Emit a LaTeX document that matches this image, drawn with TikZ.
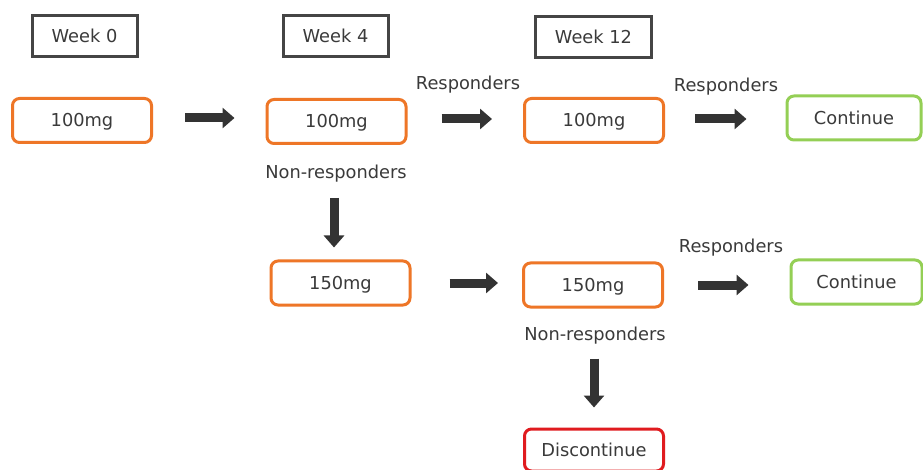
\documentclass[tikz,border=0pt]{standalone}
\usepackage{fontspec}
\setmainfont{DejaVu Sans}
\usetikzlibrary{arrows.meta}
\definecolor{txt}{HTML}{3A3A3A}
\definecolor{wk}{HTML}{454545}
\definecolor{org}{HTML}{EE7627}
\definecolor{grn}{HTML}{94CF55}
\definecolor{rd}{HTML}{E01B1F}
\definecolor{arr}{HTML}{333333}
\begin{document}
\begin{tikzpicture}[x=1pt,y=-1pt,
  font=\fontsize{17.8}{21}\selectfont, text=txt,
  base/.style={inner sep=0pt, text height=13pt, text depth=0pt, minimum height=#1},
  wkbox/.style={base=41pt, draw=wk, line width=3pt, minimum width=105pt},
  dose/.style={base=44pt, draw=org, line width=3pt, rounded corners=7pt, minimum width=139pt},
  contbox/.style={base=44pt, draw=grn, line width=3pt, rounded corners=7pt, minimum width=134pt},
  stopbox/.style={base=42pt, draw=rd, line width=3pt, rounded corners=7pt, minimum width=139pt},
  lbl/.style={inner sep=0pt, text height=13pt, text depth=0pt},
  bigarr/.style={draw=arr, line width=9pt, -{Triangle[width=20pt,length=12pt]}}
]
\useasboundingbox (0,0) rectangle (923,470);
\fill[white] (0,0) rectangle (923,470);
% week headers
\node[wkbox] (w0) at (84.5,36) {Week 0};
\node[wkbox] (w4) at (335.5,36.5) {Week 4};
\node[wkbox, minimum width=116pt] (w12) at (593.5,37.5) {Week 12};
% row 1
\node[dose] (a1) at (82,120.5) {100mg};
\node[dose] (a2) at (336.5,121.5) {100mg};
\node[dose] (a3) at (594,120.5) {100mg};
\node[contbox] (c1) at (854,118) {Continue};
% row 2
\node[dose] (b1) at (340.5,283) {150mg};
\node[dose] (b2) at (593,285) {150mg};
\node[contbox, minimum width=131pt] (c2) at (856.5,282) {Continue};
% row 3
\node[stopbox] (d) at (594,450) {Discontinue};
% labels
\node[lbl] (r1) at (468,83) {Responders};
\node[lbl] (r2) at (726,85) {Responders};
\node[lbl] (r3) at (731,246) {Responders};
\node[lbl] (n1) at (336,172) {Non-responders};
\node[lbl] (n2) at (595,334) {Non-responders};
% arrows
\draw[bigarr] ([xshift=32pt,yshift=2.5pt]a1.east) -- ([xshift=-31pt,yshift=2.5pt]a1.east -| a2.west);
\draw[bigarr] ([xshift=34pt,yshift=2.5pt]a2.east) -- ([xshift=-31pt,yshift=2.5pt]a2.east -| a3.west);
\draw[bigarr] ([xshift=30pt,yshift=1.5pt]a3.east) -- ([xshift=-39pt,yshift=1.5pt]a3.east -| c1.west);
\draw[bigarr] ([xshift=38pt]b1.east) -- ([xshift=-24pt]b1.east -| b2.west);
\draw[bigarr] ([xshift=34pt]b2.east) -- ([xshift=-41pt]b2.east -| c2.west);
\draw[bigarr] ([xshift=-2.5pt,yshift=-53pt]a2.south) -- ([xshift=-2.5pt,yshift=12pt]a2.south |- b1.north);
\draw[bigarr] ([xshift=1pt,yshift=-50pt]b2.south) -- ([xshift=1pt,yshift=20pt]b2.south |- d.north);
\end{tikzpicture}
\end{document}
